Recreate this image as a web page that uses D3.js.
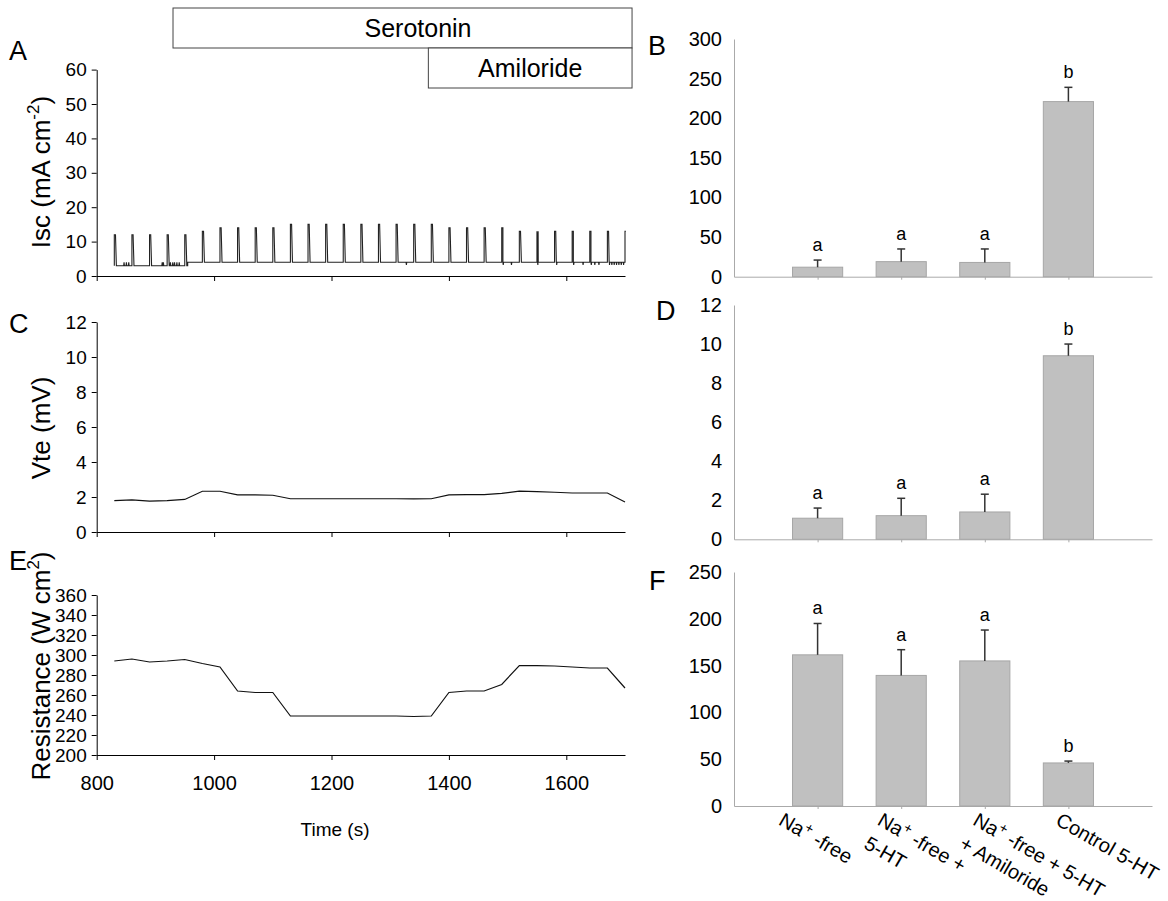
<!DOCTYPE html>
<html>
<head>
<meta charset="utf-8">
<script src="https://cdn.jsdelivr.net/npm/d3@7"></script>
<style>
body { margin: 0; background: #fff; }
svg { font-family: "Liberation Sans", Arial, sans-serif; }
</style>
</head>
<body>
<svg id="fig" width="1168" height="901"></svg>
<script>
// time points (s) at which the pulses / readings were taken
const times = [830, 860, 890, 920, 950, 980, 1010, 1040, 1070, 1100, 1130, 1160, 1190, 1220, 1250,
               1280, 1310, 1340, 1370, 1400, 1430, 1460, 1490, 1520, 1550, 1580, 1610, 1640, 1670, 1700];
// Isc pulse peaks
const iscPeaks = [12, 12, 12, 12, 12, 13, 14, 14, 14, 14, 15, 15, 15, 15, 15,
                  15, 15, 15, 15, 14, 14, 14, 14, 13, 13, 13, 13, 13, 13, 13];
const iscBase = [3, 4];          // baseline before / after the shift
const iscBaseShift = 955;
const iscBlips = [846, 850, 854, 911, 913, 925, 929, 932, 936, 940];
const iscDips = [1327, 1492, 1506, 1551, 1583, 1612, 1628, 1642, 1648, 1655, 1673, 1677, 1681, 1685, 1689, 1693, 1697];
// Vte (mV)
const vte = [1.79, 1.84, 1.77, 1.79, 1.86, 2.33, 2.33, 2.12, 2.12, 2.1, 1.9, 1.9, 1.9, 1.9, 1.9,
             1.9, 1.9, 1.89, 1.9, 2.12, 2.14, 2.14, 2.21, 2.33, 2.31, 2.27, 2.23, 2.23, 2.23, 1.71];
// Resistance
const resist = [294, 296, 293, 294, 295.5, 291.5, 288, 264, 262.5, 262.5, 239, 239, 239, 239, 239,
                239, 239, 238.5, 239, 262.5, 264, 264, 270.5, 289.5, 289.3, 289, 288, 287, 287, 267];

// treatment periods
const serotoninSpan = [930, 1712];
const amilorideSpan = [1365, 1712];

// bar panels
const categories = ["Na+-free", "Na+-free + 5-HT", "Na+-free + Amiloride + 5-HT", "Control 5-HT"];
const catLines = [["Na^+ -free"], ["Na^+ -free +", "5-HT"], ["Na^+ -free +  5-HT", "+ Amiloride"], ["Control 5-HT"]];
const iscMean = [12, 19, 18, 221];
const iscErr = [9, 16, 17, 18];
const vteMean = [1.08, 1.21, 1.4, 9.4];
const vteErr = [0.52, 0.89, 0.91, 0.6];
const resMean = [161.5, 139.5, 155, 46];
const resErr = [33.5, 27.5, 33, 2];
const sigLetters = ["a", "a", "a", "b"];

const xTicks = [800, 1000, 1200, 1400, 1600];

const svg = d3.select("#fig");
const FONT = "'Liberation Sans', Arial, sans-serif";

const xTime = d3.scaleLinear().domain([800, 1700]).range([96.7, 625]);

function supText(sel, str, size) {
  const parts = str.split("^");
  parts.forEach((p, i) => {
    if (i === 0) { sel.append("tspan").text(p); return; }
    sel.append("tspan").attr("font-size", size * 0.7).attr("dy", -size * 0.38).text(p[0]);
    sel.append("tspan").attr("dy", size * 0.38).text(p.slice(1));
  });
}

function styleAxis(g, color, size) {
  g.attr("font-size", size || 19).attr("font-family", FONT);
  g.selectAll("path, line").attr("stroke", color).attr("stroke-width", 1);
  g.selectAll("text").attr("fill", "#000");
}

// ---- left time panels ----
function timePanel(yScale, yTicks, y0, showLabels) {
  const ax = svg.append("g").attr("transform", "translate(" + xTime.range()[0] + ",0)")
    .call(d3.axisLeft(yScale).tickValues(yTicks).tickSize(5).tickSizeOuter(0).tickPadding(5));
  styleAxis(ax, "#000", 19);
  const bx = svg.append("g").attr("transform", "translate(0," + y0 + ")")
    .call(d3.axisBottom(xTime).tickValues(xTicks).tickSize(5).tickSizeOuter(0).tickPadding(16)
      .tickFormat(showLabels ? d3.format("d") : ""));
  styleAxis(bx, "#000", 20);
}

// A: Isc trace
const yA = d3.scaleLinear().domain([0, 60]).range([276, 69.6]);
timePanel(yA, [0, 10, 20, 30, 40, 50, 60], 276, false);

const base = t => (t < iscBaseShift ? iscBase[0] : iscBase[1]);
let events = [];
times.forEach((t, i) => {
  const p = iscPeaks[i];
  if (i === times.length - 1) events.push([t, base(t)], [t, p], [t + 1.5, p]);
  else events.push([t, base(t)], [t, p], [t + 2, p], [t + 3.5, base(t + 3.5)]);
});
iscBlips.forEach(t => { const b = base(t); events.push([t, b], [t + 0.6, b + 1], [t + 1.2, b]); });
iscDips.forEach(t => { const b = base(t); events.push([t, b], [t + 0.6, b - 0.8], [t + 1.2, b]); });
events.push([iscBaseShift, iscBase[0]], [iscBaseShift + 0.01, iscBase[1]]);
events.sort((a, b) => a[0] - b[0]);

svg.append("path").datum(events)
  .attr("fill", "none").attr("stroke", "#222").attr("stroke-width", 1.1)
  .attr("d", d3.line().x(d => xTime(d[0])).y(d => yA(d[1])));

// C: Vte
const yC = d3.scaleLinear().domain([0, 12]).range([532, 322]);
timePanel(yC, [0, 2, 4, 6, 8, 10, 12], 532, false);
svg.append("path").datum(times.map((t, i) => [t, vte[i]]))
  .attr("fill", "none").attr("stroke", "#111").attr("stroke-width", 1.2)
  .attr("d", d3.line().x(d => xTime(d[0])).y(d => yC(d[1])));

// E: resistance
const yE = d3.scaleLinear().domain([200, 360]).range([755, 595]);
timePanel(yE, d3.range(200, 361, 20), 755, true);
svg.append("path").datum(times.map((t, i) => [t, resist[i]]))
  .attr("fill", "none").attr("stroke", "#111").attr("stroke-width", 1.2)
  .attr("d", d3.line().x(d => xTime(d[0])).y(d => yE(d[1])));

svg.append("text").attr("x", 335).attr("y", 836).attr("text-anchor", "middle")
  .attr("font-size", 19).text("Time (s)");

// treatment boxes
[[serotoninSpan, 8, 48, "Serotonin", 418], [amilorideSpan, 48, 88, "Amiloride", null]].forEach(b => {
  const x0 = xTime(b[0][0]), x1 = xTime(b[0][1]);
  svg.append("rect").attr("x", x0).attr("y", b[1]).attr("width", x1 - x0).attr("height", b[2] - b[1])
    .attr("fill", "#fff").attr("stroke", "#444").attr("stroke-width", 1);
  svg.append("text").attr("x", b[4] || (x0 + x1) / 2).attr("y", b[2] - 11)
    .attr("text-anchor", "middle").attr("font-size", 25).text(b[3]);
});

// y titles
function yTitle(x, y, str, supPart) {
  const t = svg.append("text").attr("transform", "translate(" + x + "," + y + ") rotate(-90)")
    .attr("text-anchor", "middle").attr("font-size", 26);
  t.append("tspan").text(str);
  if (supPart) {
    t.append("tspan").attr("font-size", 17).attr("dy", -11).text(supPart);
    t.append("tspan").attr("dy", 11).text(")");
  }
}
yTitle(50, 172, "Isc (mA cm", "-2");
yTitle(50, 428, "Vte (mV)");
yTitle(50, 666, "Resistance (W cm", "2");

// panel letters
[["A", 9, 60], ["C", 9, 333], ["E", 9, 570], ["B", 648, 55], ["D", 656, 320], ["F", 649, 590]].forEach(l => {
  svg.append("text").attr("x", l[1]).attr("y", l[2]).attr("font-size", 27).text(l[0]);
});

// ---- right bar panels ----
const xCat = d3.scalePoint().domain(categories).range([734, 1152]).padding(1);
const barW = xCat.step() * 0.6;

function barPanel(yScale, yTicks, means, errs) {
  const ax = svg.append("g").attr("transform", "translate(734,0)")
    .call(d3.axisLeft(yScale).tickValues(yTicks).tickSize(0).tickPadding(12));
  styleAxis(ax, "#aaa", 20);
  const y0 = yScale(0);
  const bx = svg.append("g").attr("transform", "translate(0," + y0 + ")")
    .call(d3.axisBottom(xCat).tickSize(3).tickSizeOuter(0).tickFormat(""));
  styleAxis(bx, "#aaa", 20);

  const g = svg.append("g");
  g.selectAll("rect").data(categories).join("rect")
    .attr("x", d => xCat(d) - barW / 2)
    .attr("y", (d, i) => yScale(means[i]))
    .attr("width", barW)
    .attr("height", (d, i) => y0 - yScale(means[i]))
    .attr("fill", "#c0c0c0").attr("stroke", "#a6a6a6").attr("stroke-width", 1);
  g.selectAll("line.err").data(categories).join("line").attr("class", "err")
    .attr("x1", d => xCat(d)).attr("x2", d => xCat(d))
    .attr("y1", (d, i) => yScale(means[i])).attr("y2", (d, i) => yScale(means[i] + errs[i]))
    .attr("stroke", "#333").attr("stroke-width", 1.5);
  g.selectAll("line.cap").data(categories).join("line").attr("class", "cap")
    .attr("x1", d => xCat(d) - 4).attr("x2", d => xCat(d) + 4)
    .attr("y1", (d, i) => yScale(means[i] + errs[i])).attr("y2", (d, i) => yScale(means[i] + errs[i]))
    .attr("stroke", "#333").attr("stroke-width", 1.5);
  g.selectAll("text.sig").data(categories).join("text").attr("class", "sig")
    .attr("x", d => xCat(d)).attr("y", (d, i) => yScale(means[i] + errs[i]) - 9)
    .attr("text-anchor", "middle").attr("font-size", 18).text((d, i) => sigLetters[i]);
}

const yB = d3.scaleLinear().domain([0, 300]).range([276.7, 39]);
barPanel(yB, d3.range(0, 301, 50), iscMean, iscErr);
const yD = d3.scaleLinear().domain([0, 12]).range([539.3, 305]);
barPanel(yD, d3.range(0, 13, 2), vteMean, vteErr);
const yF = d3.scaleLinear().domain([0, 250]).range([806, 572]);
barPanel(yF, d3.range(0, 251, 50), resMean, resErr);

// rotated category labels under F
const labelDx = [-40, -25, -13, -14];
categories.forEach((c, i) => {
  const g = svg.append("g")
    .attr("transform", "translate(" + (xCat(c) + labelDx[i]) + "," + 824 + ") rotate(30)");
  catLines[i].forEach((line, j) => {
    const t = g.append("text").attr("x", 0).attr("y", j * 27).attr("font-size", 20);
    supText(t, line, 20);
  });
});
</script>
</body>
</html>
